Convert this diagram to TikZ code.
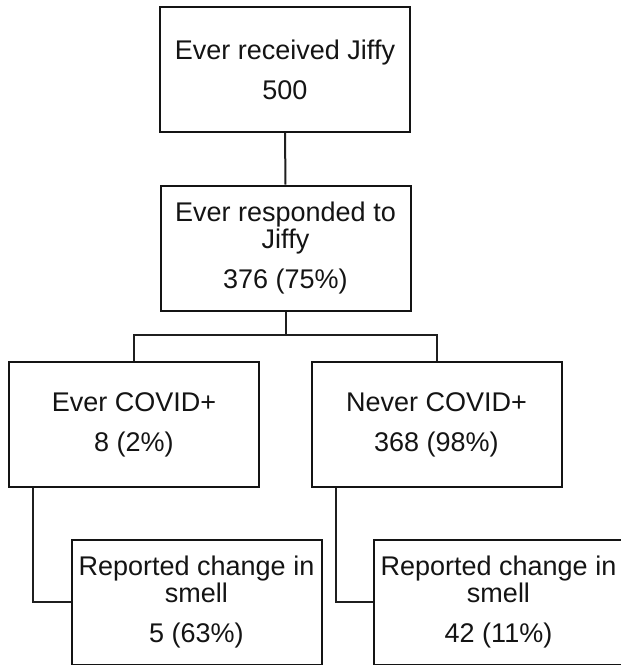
\documentclass[tikz,border=0pt]{standalone}
\usepackage{fontspec}
\setmainfont{Liberation Sans}
\begin{document}
\begin{tikzpicture}[x=1pt,y=-1pt,
  box/.style={draw=black!92, line width=2pt, minimum width=250pt, minimum height=125pt,
    inner sep=0pt, align=center, font=\fontsize{27}{27}\selectfont, text=black!92},
  conn/.style={line width=2pt, draw=black!88}]
\path[use as bounding box, clip] (0,0) rectangle (621,665);
\fill[white] (0,0) rectangle (621,665);
\node[box] (a) at (285,69.5) {Ever received Jiffy\\[13pt]500};
\node[box] (b) at (285.5,248) {Ever responded to\\Jiffy\\[13pt]376 (75\%)};
\node[box] (c) at (134,424.5) {Ever COVID+\\[13pt]8 (2\%)};
\node[box] (d) at (436.5,424.5) {Never COVID+\\[13pt]368 (98\%)};
\node[box] (e) at (196.5,602) {Reported change in\\smell\\[13pt]5 (63\%)};
\node[box] (f) at (498.5,602) {Reported change in\\smell\\[13pt]42 (11\%)};
\draw[conn] (a.south) -- (b.north);
\draw[conn] (b.south) -- (b.south |- 0,336);
\draw[conn] (c.north) -- ++(0,-26) -| (d.north);
\draw[conn] ([xshift=-101pt]c.south) |- (e.west);
\draw[conn] ([xshift=-100.5pt]d.south) |- (f.west);
\end{tikzpicture}
\end{document}
